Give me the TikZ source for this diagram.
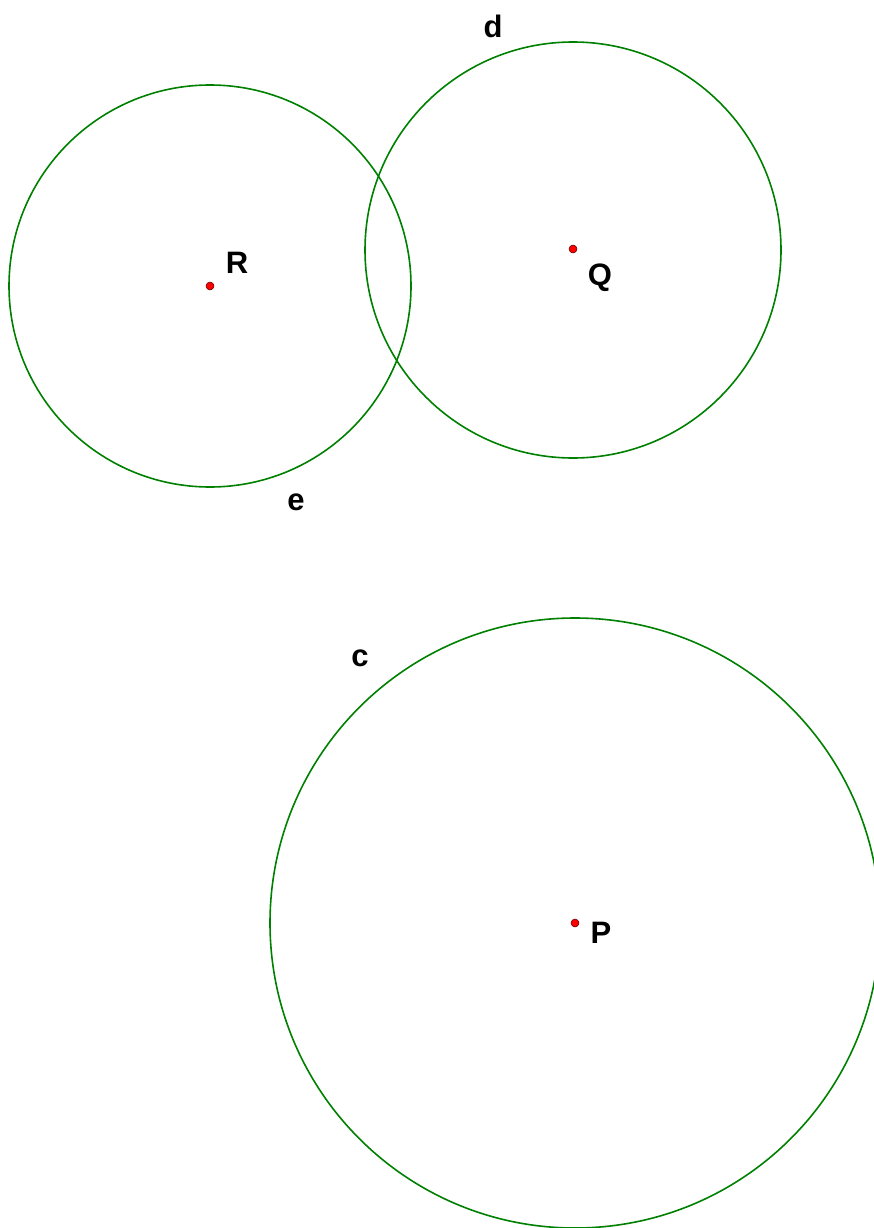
\documentclass[tikz,border=0pt]{standalone}
\usepackage{fontspec}
\setmainfont{Liberation Sans}
\begin{document}
\begin{tikzpicture}[x=1pt,y=-1pt,
  circ/.style={draw={rgb,255:red,0;green,128;blue,0}, line width=1.6pt},
  pt/.style={circle, fill=red, draw=black!70!red, line width=0.5pt, inner sep=0pt, minimum size=8pt},
  lbl/.style={font=\fontsize{31}{36}\selectfont\bfseries, inner sep=0pt}]
\useasboundingbox (0,0) rectangle (874,1228);
\clip (0,0) rectangle (874,1228);
\draw[circ] (210,286) circle (201);
\draw[circ] (573,250) circle (208);
\draw[circ] (575,923) circle (305);
\node[pt] (R) at (210,286) {};
\node[pt] (Q) at (573,249) {};
\node[pt] (P) at (575,923) {};
\node[lbl] (lR) at (237,263) {R};
\node[lbl] (lQ) at (600,278) {Q};
\node[lbl] (lP) at (601,933) {P};
\node[lbl] (ld) at (493,26) {d};
\node[lbl] (le) at (296,502) {e};
\node[lbl] (lc) at (360,658) {c};
\end{tikzpicture}
\end{document}
